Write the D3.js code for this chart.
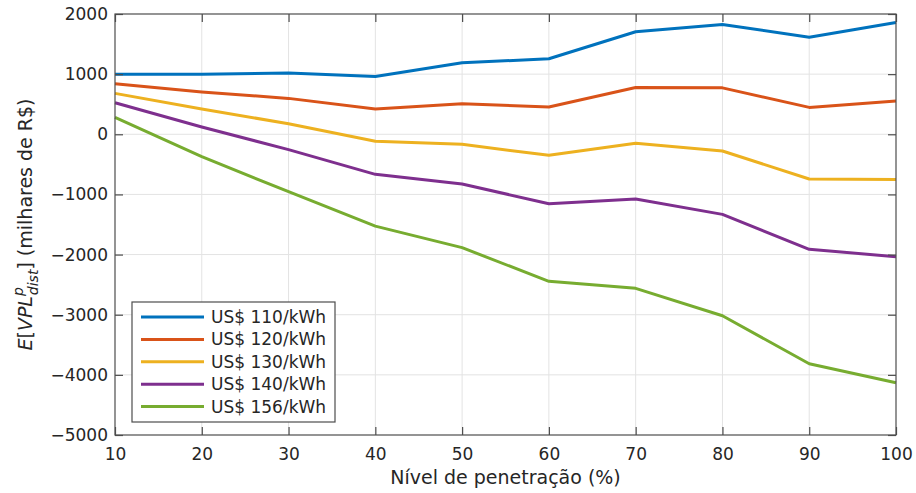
<!DOCTYPE html>
<html>
<head>
<meta charset="utf-8">
<style>
  body { margin: 0; background: #fff; }
  svg text { font-family: "DejaVu Sans", sans-serif; fill: #262626; }
</style>
</head>
<body>
<div id="chart"></div>
<script src="https://cdn.jsdelivr.net/npm/d3@7"></script>
<script>
var penetration = [10, 20, 30, 40, 50, 60, 70, 80, 90, 100];

var seriesNames = ['US$ 110/kWh', 'US$ 120/kWh', 'US$ 130/kWh', 'US$ 140/kWh', 'US$ 156/kWh'];
var seriesColors = ['#0072BD', '#D95319', '#EDB120', '#7E2F8E', '#77AC30'];

var vpl110 = [1000, 1000, 1020, 960, 1190, 1255, 1705, 1825, 1615, 1860];
var vpl120 = [840, 703, 597, 420, 508, 453, 778, 772, 447, 553];
var vpl130 = [680, 420, 176, -117, -167, -350, -150, -278, -744, -750];
var vpl140 = [525, 120, -255, -666, -827, -1155, -1077, -1332, -1912, -2035];
var vpl156 = [280, -372, -955, -1527, -1885, -2445, -2561, -3017, -3815, -4130];

var xTicks = [10, 20, 30, 40, 50, 60, 70, 80, 90, 100];
var yTicks = [-5000, -4000, -3000, -2000, -1000, 0, 1000, 2000];

var allSeries = [vpl110, vpl120, vpl130, vpl140, vpl156];

var width = 916, height = 493
  , plotLeft = 115, plotRight = 896, plotTop = 14, plotBottom = 435
  , axisColor = '#262626'
  , gridColor = '#e3e3e3'
  , tickLen = 8
;

var x = d3.scaleLinear().domain([10, 100]).range([plotLeft, plotRight]);
var y = d3.scaleLinear().domain([-5000, 2000]).range([plotBottom, plotTop]);

var svg = d3.select('#chart').append('svg')
  .attr('width', width)
  .attr('height', height);

// grid
svg.append('g').selectAll('line')
  .data(xTicks.slice(1, -1))
  .enter().append('line')
    .attr('x1', function (d) { return x(d); })
    .attr('x2', function (d) { return x(d); })
    .attr('y1', plotTop).attr('y2', plotBottom)
    .attr('stroke', gridColor).attr('stroke-width', 1);

svg.append('g').selectAll('line')
  .data(yTicks.slice(1, -1))
  .enter().append('line')
    .attr('y1', function (d) { return y(d); })
    .attr('y2', function (d) { return y(d); })
    .attr('x1', plotLeft).attr('x2', plotRight)
    .attr('stroke', gridColor).attr('stroke-width', 1);

// lines
var line = d3.line()
  .x(function (d, i) { return x(penetration[i]); })
  .y(function (d) { return y(d); });

svg.append('g').selectAll('path')
  .data(allSeries)
  .enter().append('path')
    .attr('d', line)
    .attr('fill', 'none')
    .attr('stroke', function (d, i) { return seriesColors[i]; })
    .attr('stroke-width', 3)
    .attr('stroke-linejoin', 'round');

// axes (inward ticks, box)
function styleAxis(g) {
  g.selectAll('.domain').remove();
  g.selectAll('line').attr('stroke', '#4d4d4d').attr('stroke-width', 1.2);
  g.selectAll('text').attr('font-size', 17).attr('fill', axisColor)
    .attr('font-family', '"DejaVu Sans", sans-serif');
}

svg.append('g')
  .attr('transform', 'translate(0,' + plotBottom + ')')
  .call(d3.axisBottom(x).tickValues(xTicks).tickSizeInner(-tickLen).tickSizeOuter(0).tickPadding(13))
  .call(styleAxis);

svg.append('g')
  .attr('transform', 'translate(0,' + plotTop + ')')
  .call(d3.axisTop(x).tickValues(xTicks).tickSizeInner(-tickLen).tickSizeOuter(0).tickFormat(''))
  .call(styleAxis);

svg.append('g')
  .attr('transform', 'translate(' + plotLeft + ',0)')
  .call(d3.axisLeft(y).tickValues(yTicks).tickSizeInner(-tickLen).tickSizeOuter(0).tickPadding(7)
    .tickFormat(function (d) { return d < 0 ? '\u2212' + Math.abs(d) : d; }))
  .call(styleAxis);

svg.append('g')
  .attr('transform', 'translate(' + plotRight + ',0)')
  .call(d3.axisRight(y).tickValues(yTicks).tickSizeInner(-tickLen).tickSizeOuter(0).tickFormat(''))
  .call(styleAxis);

svg.append('rect')
  .attr('x', plotLeft).attr('y', plotTop)
  .attr('width', plotRight - plotLeft).attr('height', plotBottom - plotTop)
  .attr('fill', 'none').attr('stroke', '#4d4d4d').attr('stroke-width', 1.2);

// x label
svg.append('text')
  .attr('x', (plotLeft + plotRight) / 2)
  .attr('y', 484)
  .attr('text-anchor', 'middle')
  .attr('font-size', 19)
  .text('Nível de penetração (%)');

// y label
var yl = svg.append('text')
  .attr('transform', 'translate(32,' + ((plotTop + plotBottom) / 2) + ') rotate(-90)')
  .attr('text-anchor', 'middle')
  .attr('font-size', 19);
yl.append('tspan').attr('font-style', 'italic').text('E');
yl.append('tspan').text('[');
yl.append('tspan').attr('font-style', 'italic').text('VPL');
yl.append('tspan').attr('font-style', 'italic').attr('font-size', 14).attr('dy', -9).text('p');
yl.append('tspan').attr('font-style', 'italic').attr('font-size', 14).attr('dx', -8).attr('dy', 15).text('dist');
yl.append('tspan').attr('dy', -6).text('] (milhares de R$)');

// legend
var legend = svg.append('g');
legend.append('rect')
  .attr('x', 132).attr('y', 302)
  .attr('width', 203).attr('height', 120)
  .attr('fill', '#fff').attr('stroke', '#4d4d4d').attr('stroke-width', 1.2);

var rows = legend.selectAll('g.row')
  .data(seriesNames)
  .enter().append('g')
    .attr('class', 'row')
    .attr('transform', function (d, i) { return 'translate(0,' + (317 + i * 22.4) + ')'; });

rows.append('line')
  .attr('x1', 141).attr('x2', 204)
  .attr('stroke', function (d, i) { return seriesColors[i]; })
  .attr('stroke-width', 3);

rows.append('text')
  .attr('x', 211)
  .attr('dy', '0.35em')
  .attr('font-size', 17)
  .text(function (d) { return d; });
</script>
</body>
</html>
